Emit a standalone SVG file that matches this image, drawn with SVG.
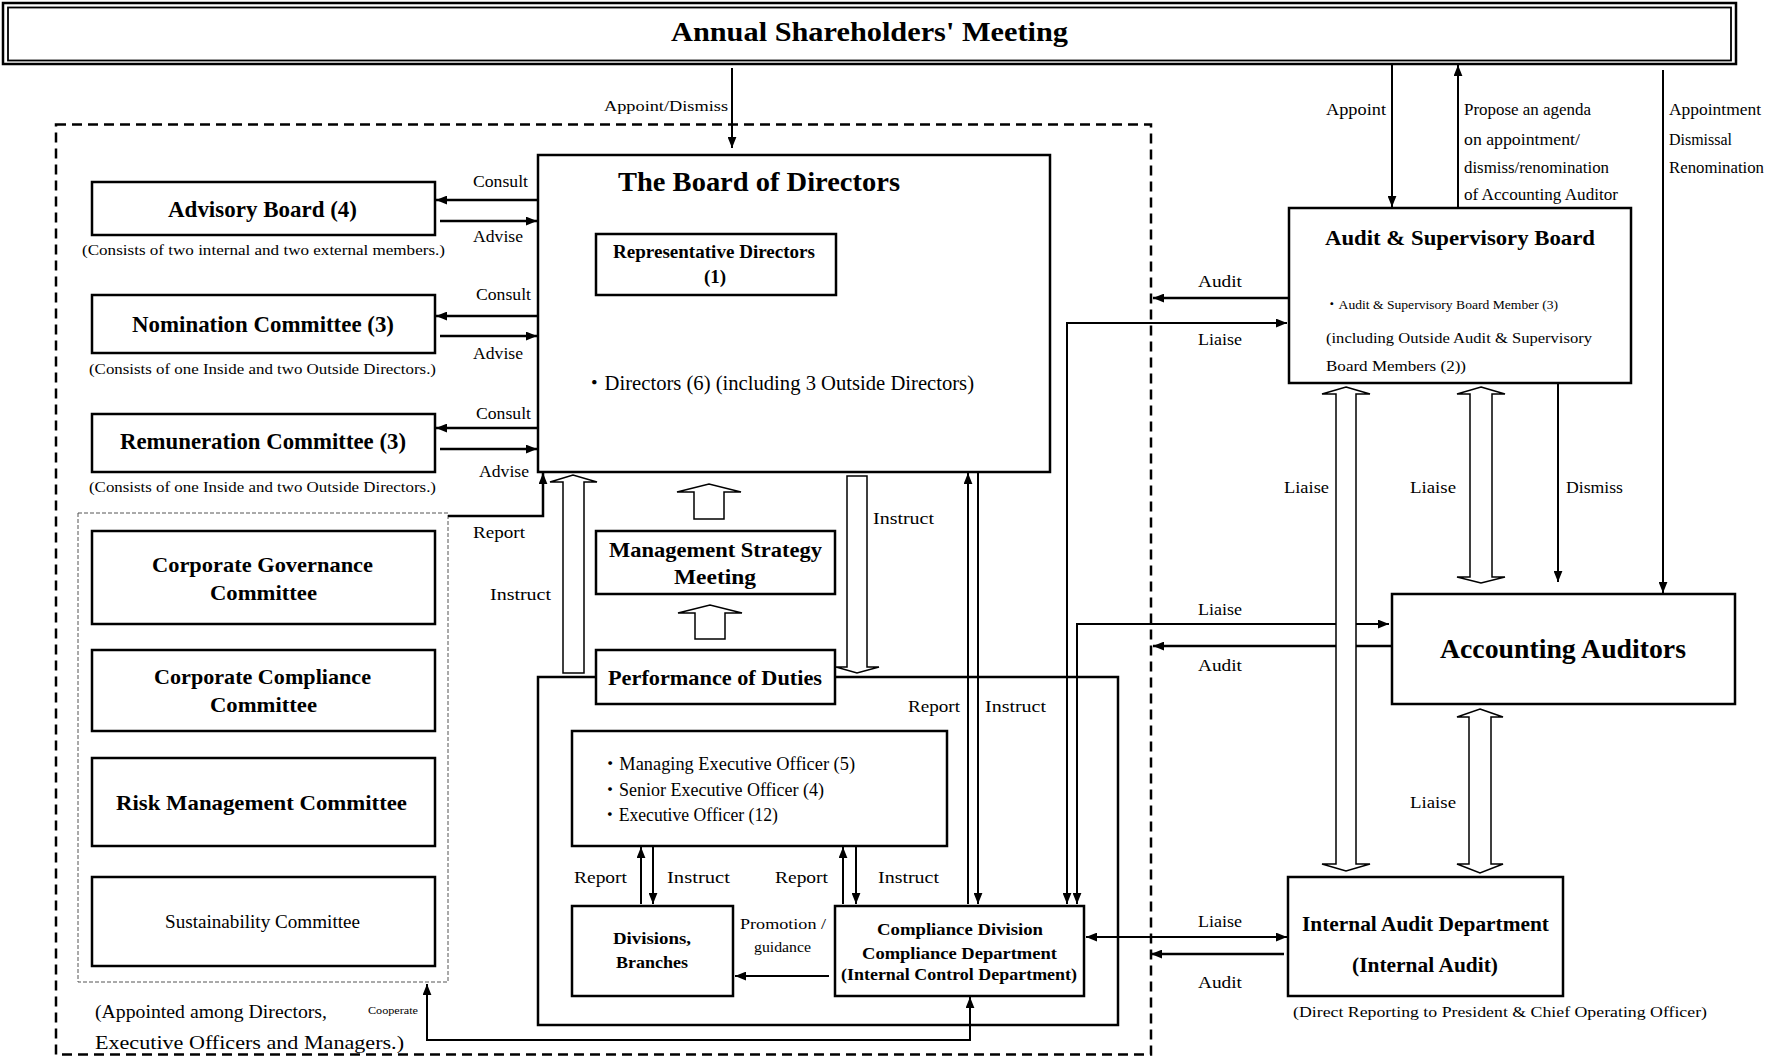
<svg xmlns="http://www.w3.org/2000/svg" width="1768" height="1058" viewBox="0 0 1768 1058">
<style>
text{font-family:"Liberation Serif","Noto Sans CJK JP",serif;fill:#000}
.b{font-weight:bold}
.box{fill:#fff;stroke:#000;stroke-width:2.5}
.ln{fill:none;stroke:#000;stroke-width:2}
.lt{fill:none;stroke:#000;stroke-width:2.5}
.hol{fill:#fff;stroke:#000;stroke-width:1.5;stroke-linejoin:miter}
.l17{font-size:17px}
.l16{font-size:16px}
.l15{font-size:15px}
</style>
<defs>
<marker id="ah" viewBox="0 0 10 8" refX="10" refY="4" markerWidth="11" markerHeight="9" markerUnits="userSpaceOnUse" orient="auto-start-reverse"><path d="M0,0 L10,4 L0,8 z" fill="#000"/></marker>
</defs>
<rect width="1768" height="1058" fill="#fff"/>

<g id="frames">
<rect x="56" y="124.5" width="1095" height="930" fill="none" stroke="#000" stroke-width="2.5" stroke-dasharray="10,6"/>
<rect x="78" y="513" width="370" height="469" fill="none" stroke="#555" stroke-width="1" stroke-dasharray="4,2"/>
<rect x="538" y="677" width="580" height="348" fill="none" stroke="#000" stroke-width="2.5"/>
</g>

<g id="shareholders">
<rect x="3" y="3" width="1733" height="61" fill="#fff" stroke="#000" stroke-width="2.5"/>
<rect x="8" y="7.5" width="1723" height="53" fill="none" stroke="#000" stroke-width="1.8"/>
<text class="b" x="671" y="41" font-size="28" textLength="397" lengthAdjust="spacingAndGlyphs">Annual Shareholders' Meeting</text>
</g>

<g id="connectors">
<line class="ln" x1="732" y1="68" x2="732" y2="148" marker-end="url(#ah)"/>
<text class="l15" x="604" y="111" textLength="124" lengthAdjust="spacingAndGlyphs">Appoint/Dismiss</text>

<line class="lt" x1="537" y1="200" x2="436" y2="200" marker-end="url(#ah)"/>
<line class="lt" x1="440" y1="221" x2="537" y2="221" marker-end="url(#ah)"/>
<line class="lt" x1="537" y1="316" x2="436" y2="316" marker-end="url(#ah)"/>
<line class="lt" x1="440" y1="336" x2="537" y2="336" marker-end="url(#ah)"/>
<line class="lt" x1="537" y1="428" x2="436" y2="428" marker-end="url(#ah)"/>
<line class="lt" x1="440" y1="449" x2="537" y2="449" marker-end="url(#ah)"/>
<text class="l17" x="473" y="187" textLength="55" lengthAdjust="spacingAndGlyphs">Consult</text>
<text class="l17" x="473" y="242" textLength="50" lengthAdjust="spacingAndGlyphs">Advise</text>
<text class="l17" x="476" y="300" textLength="55" lengthAdjust="spacingAndGlyphs">Consult</text>
<text class="l17" x="473" y="359" textLength="50" lengthAdjust="spacingAndGlyphs">Advise</text>
<text class="l17" x="476" y="419" textLength="55" lengthAdjust="spacingAndGlyphs">Consult</text>
<text class="l17" x="479" y="477" textLength="50" lengthAdjust="spacingAndGlyphs">Advise</text>

<path class="lt" d="M448,516 H543 V473" marker-end="url(#ah)"/>
<text class="l17" x="473" y="538" textLength="52" lengthAdjust="spacingAndGlyphs">Report</text>
<text class="l17" x="490" y="600" textLength="61" lengthAdjust="spacingAndGlyphs">Instruct</text>

<path class="ln" d="M427,984 V1040 H970 V997" marker-start="url(#ah)" marker-end="url(#ah)"/>
<text x="368" y="1014" font-size="11" textLength="50" lengthAdjust="spacingAndGlyphs">Cooperate</text>

<line class="ln" x1="968" y1="904" x2="968" y2="473" marker-end="url(#ah)"/>
<line class="ln" x1="978" y1="472" x2="978" y2="904" marker-end="url(#ah)"/>
<text class="l17" x="908" y="712" textLength="52" lengthAdjust="spacingAndGlyphs">Report</text>
<text class="l17" x="985" y="712" textLength="61" lengthAdjust="spacingAndGlyphs">Instruct</text>
<text class="l17" x="873" y="524" textLength="61" lengthAdjust="spacingAndGlyphs">Instruct</text>

<line class="ln" x1="641" y1="904" x2="641" y2="847" marker-end="url(#ah)"/>
<line class="ln" x1="653" y1="847" x2="653" y2="904" marker-end="url(#ah)"/>
<line class="ln" x1="843" y1="904" x2="843" y2="847" marker-end="url(#ah)"/>
<line class="ln" x1="856" y1="847" x2="856" y2="904" marker-end="url(#ah)"/>
<text class="l17" x="574" y="883" textLength="53" lengthAdjust="spacingAndGlyphs">Report</text>
<text class="l17" x="667" y="883" textLength="63" lengthAdjust="spacingAndGlyphs">Instruct</text>
<text class="l17" x="775" y="883" textLength="53" lengthAdjust="spacingAndGlyphs">Report</text>
<text class="l17" x="878" y="883" textLength="61" lengthAdjust="spacingAndGlyphs">Instruct</text>

<line class="ln" x1="829" y1="976" x2="735" y2="976" marker-end="url(#ah)"/>
<text x="740" y="929" font-size="14" textLength="86" lengthAdjust="spacingAndGlyphs">Promotion /</text>
<text x="754" y="952" font-size="14" textLength="57" lengthAdjust="spacingAndGlyphs">guidance</text>

<path class="ln" d="M1287,323 H1067 V904" marker-start="url(#ah)" marker-end="url(#ah)"/>
<path class="ln" d="M1389,624 H1077 V904" marker-start="url(#ah)" marker-end="url(#ah)"/>
<line class="lt" x1="1289" y1="298" x2="1153" y2="298" marker-end="url(#ah)"/>
<line class="lt" x1="1391" y1="646" x2="1153" y2="646" marker-end="url(#ah)"/>
<line class="ln" x1="1086" y1="937" x2="1287" y2="937" marker-start="url(#ah)" marker-end="url(#ah)"/>
<line class="lt" x1="1284" y1="954" x2="1151" y2="954" marker-end="url(#ah)"/>
<text class="l17" x="1198" y="287" textLength="44" lengthAdjust="spacingAndGlyphs">Audit</text>
<text class="l17" x="1198" y="345" textLength="44" lengthAdjust="spacingAndGlyphs">Liaise</text>
<text class="l17" x="1198" y="615" textLength="44" lengthAdjust="spacingAndGlyphs">Liaise</text>
<text class="l17" x="1198" y="671" textLength="44" lengthAdjust="spacingAndGlyphs">Audit</text>
<text class="l17" x="1198" y="927" textLength="44" lengthAdjust="spacingAndGlyphs">Liaise</text>
<text class="l17" x="1198" y="988" textLength="44" lengthAdjust="spacingAndGlyphs">Audit</text>

<line class="ln" x1="1392" y1="64" x2="1392" y2="207" marker-end="url(#ah)"/>
<line class="ln" x1="1458" y1="208" x2="1458" y2="65" marker-end="url(#ah)"/>
<line class="ln" x1="1663" y1="70" x2="1663" y2="593" marker-end="url(#ah)"/>
<line class="ln" x1="1558" y1="384" x2="1558" y2="582" marker-end="url(#ah)"/>
<text class="l16" x="1326" y="115" textLength="60" lengthAdjust="spacingAndGlyphs">Appoint</text>
<text class="l16" x="1464" y="115" textLength="127" lengthAdjust="spacingAndGlyphs">Propose an agenda</text>
<text class="l16" x="1464" y="145" textLength="116" lengthAdjust="spacingAndGlyphs">on appointment/</text>
<text class="l16" x="1464" y="173" textLength="145" lengthAdjust="spacingAndGlyphs">dismiss/renomination</text>
<text class="l16" x="1464" y="200" textLength="154" lengthAdjust="spacingAndGlyphs">of Accounting Auditor</text>
<text class="l16" x="1669" y="115" textLength="92" lengthAdjust="spacingAndGlyphs">Appointment</text>
<text class="l16" x="1669" y="145" textLength="63" lengthAdjust="spacingAndGlyphs">Dismissal</text>
<text class="l16" x="1669" y="173" textLength="95" lengthAdjust="spacingAndGlyphs">Renomination</text>
<text class="l17" x="1284" y="493" textLength="45" lengthAdjust="spacingAndGlyphs">Liaise</text>
<text class="l17" x="1410" y="493" textLength="46" lengthAdjust="spacingAndGlyphs">Liaise</text>
<text class="l17" x="1566" y="493" textLength="57" lengthAdjust="spacingAndGlyphs">Dismiss</text>
<text class="l17" x="1410" y="808" textLength="46" lengthAdjust="spacingAndGlyphs">Liaise</text>

<polygon class="hol" points="563,673 563,482 550,482 573,475 597,482 584,482 584,673"/>
<polygon class="hol" points="694,519 694,492 677,492 709,484 741,492 724,492 724,519"/>
<polygon class="hol" points="695,639 695,613 678,613 710,605 742,613 725,613 725,639"/>
<polygon class="hol" points="847,476 847,667 836,667 857,673 879,667 867,667 867,476"/>
<polygon class="hol" points="1346,387 1370,394 1356,394 1356,864 1370,864 1346,871 1322,864 1336,864 1336,394 1322,394"/>
<polygon class="hol" points="1481,387 1505,394 1492,394 1492,577 1505,577 1481,583 1457,577 1470,577 1470,394 1457,394"/>
<polygon class="hol" points="1480,709 1503,717 1491,717 1491,864 1503,864 1480,873 1457,864 1469,864 1469,717 1457,717"/>
</g>

<g id="board">
<rect class="box" x="538" y="155" width="512" height="317"/>
<text class="b" x="618" y="191" font-size="28" textLength="282" lengthAdjust="spacingAndGlyphs">The Board of Directors</text>
<text x="584" y="390" font-size="20" textLength="390" lengthAdjust="spacingAndGlyphs">・Directors (6) (including 3 Outside Directors)</text>
</g>
<g id="representative-directors">
<rect class="box" x="596" y="234" width="240" height="61"/>
<text class="b" x="613" y="258" font-size="19" textLength="202" lengthAdjust="spacingAndGlyphs">Representative Directors</text>
<text class="b" x="715" y="283" font-size="19" text-anchor="middle">(1)</text>
</g>
<g id="advisory-board">
<rect class="box" x="92" y="182" width="343" height="53"/>
<text class="b" x="168" y="217" font-size="23" textLength="189" lengthAdjust="spacingAndGlyphs">Advisory Board (4)</text>
<text class="l15" x="82" y="255" textLength="363" lengthAdjust="spacingAndGlyphs">(Consists of two internal and two external members.)</text>
</g>
<g id="nomination-committee">
<rect class="box" x="92" y="295" width="343" height="58"/>
<text class="b" x="132" y="332" font-size="23" textLength="262" lengthAdjust="spacingAndGlyphs">Nomination Committee (3)</text>
<text class="l15" x="89" y="374" textLength="347" lengthAdjust="spacingAndGlyphs">(Consists of one Inside and two Outside Directors.)</text>
</g>
<g id="remuneration-committee">
<rect class="box" x="92" y="414" width="343" height="58"/>
<text class="b" x="120" y="449" font-size="23" textLength="286" lengthAdjust="spacingAndGlyphs">Remuneration Committee (3)</text>
<text class="l15" x="89" y="492" textLength="347" lengthAdjust="spacingAndGlyphs">(Consists of one Inside and two Outside Directors.)</text>
</g>
<g id="corporate-governance-committee">
<rect class="box" x="92" y="531" width="343" height="93"/>
<text class="b" x="152" y="572" font-size="22" textLength="221" lengthAdjust="spacingAndGlyphs">Corporate Governance</text>
<text class="b" x="210" y="600" font-size="22" textLength="107" lengthAdjust="spacingAndGlyphs">Committee</text>
</g>
<g id="corporate-compliance-committee">
<rect class="box" x="92" y="650" width="343" height="81"/>
<text class="b" x="154" y="684" font-size="22" textLength="217" lengthAdjust="spacingAndGlyphs">Corporate Compliance</text>
<text class="b" x="210" y="712" font-size="22" textLength="107" lengthAdjust="spacingAndGlyphs">Committee</text>
</g>
<g id="risk-management-committee">
<rect class="box" x="92" y="758" width="343" height="88"/>
<text class="b" x="116" y="810" font-size="22" textLength="291" lengthAdjust="spacingAndGlyphs">Risk Management Committee</text>
</g>
<g id="sustainability-committee">
<rect class="box" x="92" y="877" width="343" height="89"/>
<text x="165" y="928" font-size="18" textLength="195" lengthAdjust="spacingAndGlyphs">Sustainability Committee</text>
</g>
<g id="committees-note">
<text x="95" y="1018" font-size="19" textLength="232" lengthAdjust="spacingAndGlyphs">(Appointed among Directors,</text>
<text x="95" y="1049" font-size="19" textLength="309" lengthAdjust="spacingAndGlyphs">Executive Officers and Managers.)</text>
</g>
<g id="management-strategy-meeting">
<rect class="box" x="596" y="531" width="239" height="63"/>
<text class="b" x="609" y="557" font-size="22" textLength="213" lengthAdjust="spacingAndGlyphs">Management Strategy</text>
<text class="b" x="674" y="584" font-size="22" textLength="82" lengthAdjust="spacingAndGlyphs">Meeting</text>
</g>
<g id="performance-of-duties">
<rect class="box" x="596" y="650" width="239" height="54"/>
<text class="b" x="608" y="685" font-size="22" textLength="214" lengthAdjust="spacingAndGlyphs">Performance of Duties</text>
</g>
<g id="executive-officers">
<rect class="box" x="572" y="731" width="375" height="115"/>
<text x="601" y="770" font-size="18" textLength="254" lengthAdjust="spacingAndGlyphs">・Managing Executive Officer (5)</text>
<text x="601" y="796" font-size="18" textLength="223" lengthAdjust="spacingAndGlyphs">・Senior Executive Officer (4)</text>
<text x="601" y="821" font-size="18" textLength="177" lengthAdjust="spacingAndGlyphs">・Executive Officer (12)</text>
</g>
<g id="divisions-branches">
<rect class="box" x="572" y="906" width="161" height="90"/>
<text class="b" x="613" y="944" font-size="17" textLength="78" lengthAdjust="spacingAndGlyphs">Divisions,</text>
<text class="b" x="616" y="968" font-size="17" textLength="72" lengthAdjust="spacingAndGlyphs">Branches</text>
</g>
<g id="compliance-division">
<rect class="box" x="835" y="906" width="249" height="90"/>
<text class="b" x="877" y="935" font-size="17" textLength="166" lengthAdjust="spacingAndGlyphs">Compliance Division</text>
<text class="b" x="862" y="959" font-size="17" textLength="195" lengthAdjust="spacingAndGlyphs">Compliance Department</text>
<text class="b" x="841" y="980" font-size="17" textLength="236" lengthAdjust="spacingAndGlyphs">(Internal Control Department)</text>
</g>
<g id="audit-supervisory-board">
<rect class="box" x="1289" y="208" width="342" height="175"/>
<text class="b" x="1325" y="245" font-size="22" textLength="270" lengthAdjust="spacingAndGlyphs">Audit &amp; Supervisory Board</text>
<text x="1325" y="309" font-size="12.5" textLength="233" lengthAdjust="spacingAndGlyphs">・Audit &amp; Supervisory Board Member (3)</text>
<text class="l15" x="1326" y="343" textLength="266" lengthAdjust="spacingAndGlyphs">(including Outside Audit &amp; Supervisory</text>
<text class="l15" x="1326" y="371" textLength="140" lengthAdjust="spacingAndGlyphs">Board Members (2))</text>
</g>
<g id="accounting-auditors">
<rect class="box" x="1392" y="594" width="343" height="110"/>
<text class="b" x="1440" y="658" font-size="27" textLength="246" lengthAdjust="spacingAndGlyphs">Accounting Auditors</text>
</g>
<g id="internal-audit-department">
<rect class="box" x="1288" y="877" width="275" height="119"/>
<text class="b" x="1302" y="931" font-size="21" textLength="247" lengthAdjust="spacingAndGlyphs">Internal Audit Department</text>
<text class="b" x="1352" y="972" font-size="21" textLength="146" lengthAdjust="spacingAndGlyphs">(Internal Audit)</text>
<text class="l15" x="1293" y="1017" textLength="414" lengthAdjust="spacingAndGlyphs">(Direct Reporting to President &amp; Chief Operating Officer)</text>
</g>
</svg>
